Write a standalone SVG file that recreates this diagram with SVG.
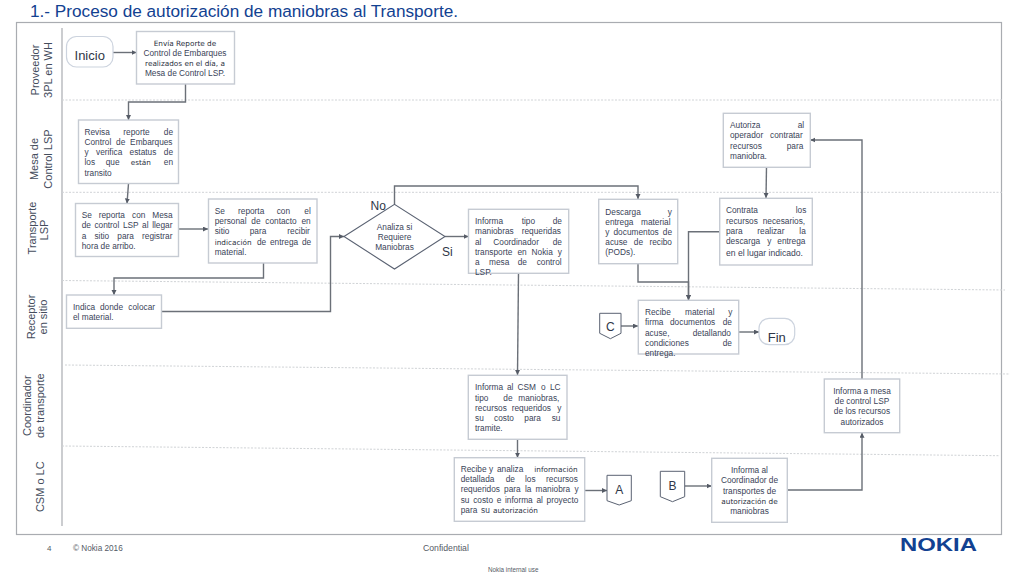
<svg xmlns="http://www.w3.org/2000/svg" width="1024" height="576" viewBox="0 0 1024 576">
<style>
text{font-family:"Liberation Sans",Arial,sans-serif;fill:#3a4358}
.t{font-size:8.3px}
.c{font-size:8.3px;text-anchor:middle}
.d{font-family:"DejaVu Sans",sans-serif;font-size:7.3px;fill:#2a3040}
.lane{font-size:11px;text-anchor:middle;fill:#444c5c}
.big{font-size:13px;text-anchor:middle;fill:#2f3748}
.box{fill:#fff;stroke:#c6cbd3;stroke-width:1.4}
.term{fill:#fff;stroke:#ccd3de;stroke-width:1.2}
.shape{fill:#fff;stroke:#5a6272;stroke-width:1}
.dash{fill:none;stroke:#d0d3d6;stroke-width:1;stroke-dasharray:2 1.5}
.conn{fill:none;stroke:#6b7078;stroke-width:1.4;marker-end:url(#arr)}
.foot{font-size:8.5px;fill:#555b66}
</style>
<defs>
<marker id="arr" markerUnits="userSpaceOnUse" markerWidth="6" markerHeight="6" refX="5" refY="2.5" orient="auto"><path d="M0 0L5 2.5L0 5Z" fill="#555b66"/></marker>
</defs>
<rect width="1024" height="576" fill="#fff"/>
<text x="30" y="16.5" style="font-size:17.2px;fill:#124191">1.- Proceso de autorización de maniobras al Transporte.</text>
<g id="frame">
<rect x="16.5" y="22.5" width="985" height="512" fill="none" stroke="#a9acb1" stroke-width="1.2"/>
<path d="M62 28V526" fill="none" stroke="#a9acb1" stroke-width="1.2"/>
<path class="dash" d="M62 100H1003"/>
<path class="dash" d="M62 192.3H1003"/>
<path class="dash" d="M62 280.5L340 283.3L1005 290"/>
<path class="dash" d="M65 365L1010 374"/>
<path class="dash" d="M62 446L1000 455.7"/>
</g>
<g id="lanes">
<text class="lane" transform="translate(39 70) rotate(-90)">Proveedor</text>
<text class="lane" transform="translate(52 70) rotate(-90)">3PL en WH</text>
<text class="lane" transform="translate(38 159) rotate(-90)">Mesa de</text>
<text class="lane" transform="translate(52 159) rotate(-90)">Control LSP</text>
<text class="lane" transform="translate(36 228) rotate(-90)">Transporte</text>
<text class="lane" transform="translate(48 230) rotate(-90)">LSP</text>
<text class="lane" transform="translate(34.5 317) rotate(-90)">Receptor</text>
<text class="lane" transform="translate(47 317) rotate(-90)">en sitio</text>
<text class="lane" transform="translate(31 405.7) rotate(-90)">Coordinador</text>
<text class="lane" transform="translate(44 405.7) rotate(-90)">de transporte</text>
<text class="lane" transform="translate(44 486.7) rotate(-90)">CSM o LC</text>
</g>
<g id="connectors">
<path class="conn" d="M113 52.5H136.5"/>
<path class="conn" d="M185.5 84V102H128.5V120"/>
<path class="conn" d="M128.5 183.5L127 203.5"/>
<path class="conn" d="M178.5 229H208"/>
<path class="conn" d="M263.5 263V278H114V295"/>
<path class="conn" d="M161.5 311.5H330.5V236.5H344"/>
<path class="conn" d="M394.5 204V186H638V199"/>
<path class="conn" d="M445 236.5H468.5"/>
<path class="conn" d="M518.5 273L517.5 375"/>
<path class="conn" d="M638 264V282H688.5V300"/>
<path class="conn" d="M719.7 231.7H688.5V300"/>
<path class="conn" d="M621 326H638"/>
<path class="conn" d="M738.7 332H759"/>
<path class="conn" d="M517.5 439V457.7"/>
<path class="conn" d="M584.7 490.5H607"/>
<path class="conn" d="M684.7 486H711.7"/>
<path class="conn" d="M787.3 490H862V432.7"/>
<path class="conn" d="M862 379V140H810.3"/>
<path class="conn" d="M766.5 167L766 198"/>
</g>
<g id="inicio"><rect class="term" x="66.5" y="36.5" width="46.5" height="30.5" rx="10"/><text class="big" x="89.7" y="60">Inicio</text></g>
<g id="envia"><rect class="box" x="136.5" y="31.5" width="98" height="52.5"/>
<text class="c d" x="185" y="46">Envía Reporte de</text>
<text class="c" x="185" y="56">Control de Embarques</text>
<text class="c d" x="185" y="66">realizados en el día, a</text>
<text class="c" x="185" y="76">Mesa de Control LSP.</text></g>
<g id="revisa"><rect class="box" x="78.5" y="120" width="100" height="63.5"/>
<text class="t" y="134.5"><tspan x="84.5">Revisa</tspan> <tspan x="123.3">reporte</tspan> <tspan x="163.8">de</tspan></text>
<text class="t" y="144.5"><tspan x="84.5">Control</tspan> <tspan x="116.1">de</tspan> <tspan x="130.1">Embarques</tspan></text>
<text class="t" y="155"><tspan x="84.5">y</tspan> <tspan x="96">verifica</tspan> <tspan x="129.6">estatus</tspan> <tspan x="163.8">de</tspan></text>
<text class="t" y="165"><tspan x="84.5">los</tspan> <tspan x="105.7">que</tspan> <tspan x="130.7" class="d">están</tspan> <tspan x="163.8">en</tspan></text>
<text class="t" x="84.5" y="175.5">transito</text></g>
<g id="reporta1"><rect class="box" x="75.5" y="203.5" width="103" height="53"/>
<text class="t" y="218"><tspan x="81.7">Se</tspan> <tspan x="98.7">reporta</tspan> <tspan x="132">con</tspan> <tspan x="152.3">Mesa</tspan></text>
<text class="t" y="228"><tspan x="81.7">de</tspan> <tspan x="94.4">control</tspan> <tspan x="122.9">LSP</tspan> <tspan x="142.1">al</tspan> <tspan x="152.2">llegar</tspan></text>
<text class="t" y="238.5"><tspan x="81.7">a</tspan> <tspan x="94.4">sitio</tspan> <tspan x="117.3">para</tspan> <tspan x="142">registrar</tspan></text>
<text class="t" x="81.7" y="248.7">hora de arribo.</text></g>
<g id="reporta2"><rect class="box" x="208.5" y="199" width="108.5" height="64"/>
<text class="t" y="213.5"><tspan x="214.7">Se</tspan> <tspan x="238">reporta</tspan> <tspan x="276.7">con</tspan> <tspan x="304.3">el</tspan></text>
<text class="t" y="224"><tspan x="214.7">personal</tspan> <tspan x="251.3">de</tspan> <tspan x="265.3">contacto</tspan> <tspan x="301.5">en</tspan></text>
<text class="t" y="234"><tspan x="214.7">sitio</tspan> <tspan x="249.7">para</tspan> <tspan x="287.3">recibir</tspan></text>
<text class="t" y="244.5"><tspan x="214.7" class="d">indicación</tspan> <tspan x="257">de</tspan> <tspan x="270">entrega</tspan> <tspan x="302">de</tspan></text>
<text class="t" x="214.7" y="255">material.</text></g>
<g id="indica"><rect class="box" x="66.5" y="295" width="95" height="33.3"/>
<text class="t" y="309.7"><tspan x="73">Indica</tspan> <tspan x="100">donde</tspan> <tspan x="128.3">colocar</tspan></text>
<text class="t" x="73" y="320">el material.</text></g>
<g id="decision"><path d="M344 236.5L394.5 204.3L445 236.5L394.5 269Z" fill="#fff" stroke="#5a6272" stroke-width="1.1"/>
<text class="c" x="394.5" y="230">Analiza si</text>
<text class="c" x="394.5" y="240">Requiere</text>
<text class="c" x="394.5" y="249.5">Maniobras</text>
<text x="370.5" y="210" style="font-size:12px;fill:#2f3748">No</text>
<text x="442" y="256" style="font-size:12px;fill:#2f3748">Si</text></g>
<g id="tipo"><rect class="box" x="468.5" y="209.3" width="100.2" height="64"/>
<text class="t" y="224"><tspan x="475">Informa</tspan> <tspan x="521.7">tipo</tspan> <tspan x="552.7">de</tspan></text>
<text class="t" y="234.3"><tspan x="475">maniobras</tspan> <tspan x="521.7">requeridas</tspan></text>
<text class="t" y="244.5"><tspan x="475">al</tspan> <tspan x="493.3">Coordinador</tspan> <tspan x="552.7">de</tspan></text>
<text class="t" y="254.7"><tspan x="475">transporte</tspan> <tspan x="517.4">en</tspan> <tspan x="531.6">Nokia</tspan> <tspan x="557.8">y</tspan></text>
<text class="t" y="265"><tspan x="475">a</tspan> <tspan x="489">mesa</tspan> <tspan x="517.7">de</tspan> <tspan x="536.7">control</tspan></text>
<text class="t" x="475" y="275">LSP.</text></g>
<g id="descarga"><rect class="box" x="598.7" y="199.3" width="79" height="64.4"/>
<text class="t" y="214.5"><tspan x="605.3">Descarga</tspan> <tspan x="667.8">y</tspan></text>
<text class="t" y="225"><tspan x="605.3">entrega</tspan> <tspan x="641">material</tspan></text>
<text class="t" y="235"><tspan x="605.3">y</tspan> <tspan x="613.5">documentos</tspan> <tspan x="662.8">de</tspan></text>
<text class="t" y="245"><tspan x="605.3">acuse</tspan> <tspan x="633.8">de</tspan> <tspan x="649.4">recibo</tspan></text>
<text class="t" x="605.3" y="255.3">(PODs).</text></g>
<g id="c"><path class="shape" d="M599.7 313.3H621V333.3L610.4 338.7L599.7 333.3Z"/><text class="big" x="610.4" y="330.5" style="font-size:12px">C</text></g>
<g id="recibe"><rect class="box" x="638.3" y="300.3" width="100.4" height="53.7"/>
<text class="t" y="315"><tspan x="645">Recibe</tspan> <tspan x="685">material</tspan> <tspan x="728.3">y</tspan></text>
<text class="t" y="325"><tspan x="645">firma</tspan> <tspan x="670">documentos</tspan> <tspan x="722.7">de</tspan></text>
<text class="t" y="335.5"><tspan x="645">acuse,</tspan> <tspan x="692.7">detallando</tspan></text>
<text class="t" y="345.5"><tspan x="645">condiciones</tspan> <tspan x="722.7">de</tspan></text>
<text class="t" x="645" y="356">entrega.</text></g>
<g id="fin"><rect class="term" x="759" y="318.3" width="35.7" height="26.4" rx="10"/><text class="big" x="776.8" y="341.5">Fin</text></g>
<g id="csm"><rect class="box" x="468.3" y="375.3" width="98.7" height="64"/>
<text class="t" y="390"><tspan x="475">Informa</tspan> <tspan x="507">al</tspan> <tspan x="517.5">CSM</tspan> <tspan x="541">o</tspan> <tspan x="550">LC</tspan></text>
<text class="t" y="400.5"><tspan x="475">tipo</tspan> <tspan x="503.3">de</tspan> <tspan x="518.3">maniobras,</tspan></text>
<text class="t" y="410.5"><tspan x="475">recursos</tspan> <tspan x="511.7">requeridos</tspan> <tspan x="557.3">y</tspan></text>
<text class="t" y="420.5"><tspan x="475">su</tspan> <tspan x="494">costo</tspan> <tspan x="524.3">para</tspan> <tspan x="551.7">su</tspan></text>
<text class="t" x="475" y="431">tramite.</text></g>
<g id="analiza"><rect class="box" x="454.3" y="457.7" width="130.4" height="63.6"/>
<text class="t" y="472"><tspan x="460.7">Recibe</tspan> <tspan x="489">y</tspan> <tspan x="497">analiza</tspan> <tspan x="534.3" class="d">información</tspan></text>
<text class="t" y="482"><tspan x="460.7">detallada</tspan> <tspan x="505.7">de</tspan> <tspan x="525">los</tspan> <tspan x="546">recursos</tspan></text>
<text class="t" y="492"><tspan x="460.7">requeridos</tspan> <tspan x="504.1">para</tspan> <tspan x="524.9">la</tspan> <tspan x="535.6">maniobra</tspan> <tspan x="574.4">y</tspan></text>
<text class="t" y="502.5"><tspan x="460.7">su</tspan> <tspan x="473.2">costo</tspan> <tspan x="496.7">e</tspan> <tspan x="505">informa</tspan> <tspan x="536.4">al</tspan> <tspan x="546.6">proyecto</tspan></text>
<text class="t" y="512.5"><tspan x="460.7">para</tspan> <tspan x="481">su</tspan> <tspan x="493" class="d">autorización</tspan></text></g>
<g id="a"><path class="shape" d="M607 475.3H631.3V500.7L619.2 505L607 500.7Z"/><text class="big" x="619.2" y="493.5" style="font-size:12px">A</text></g>
<g id="b"><path class="shape" d="M660.3 471.3H684.7V496.7L672.5 501.7L660.3 496.7Z"/><text class="big" x="672.5" y="489.5" style="font-size:12px">B</text></g>
<g id="coord"><rect class="box" x="711.7" y="458.3" width="75.6" height="64"/>
<text class="c" x="749.5" y="473">Informa al</text>
<text class="c" x="749.5" y="483.3">Coordinador de</text>
<text class="c" x="749.5" y="493.5">transportes de</text>
<text class="c d" x="749.5" y="504">autorización de</text>
<text class="c" x="749.5" y="514">maniobras</text></g>
<g id="mesa"><rect class="box" x="824.3" y="379" width="75.4" height="53.7"/>
<text class="c" x="862" y="393.7">Informa a mesa</text>
<text class="c" x="862" y="404">de control LSP</text>
<text class="c" x="862" y="414">de los recursos</text>
<text class="c" x="862" y="424.5">autorizados</text></g>
<g id="autoriza"><rect class="box" x="723.3" y="113.3" width="87" height="54"/>
<text class="t" y="128"><tspan x="730">Autoriza</tspan> <tspan x="797.7">al</tspan></text>
<text class="t" y="138"><tspan x="730">operador</tspan> <tspan x="770">contratar</tspan></text>
<text class="t" y="148.5"><tspan x="730">recursos</tspan> <tspan x="786.7">para</tspan></text>
<text class="t" x="730" y="159">maniobra.</text></g>
<g id="contrata"><rect class="box" x="719.7" y="198.3" width="92.6" height="66.7"/>
<text class="t" y="213"><tspan x="726">Contrata</tspan> <tspan x="795.7">los</tspan></text>
<text class="t" y="223.5"><tspan x="726">recursos</tspan> <tspan x="762.7">necesarios,</tspan></text>
<text class="t" y="233.5"><tspan x="726">para</tspan> <tspan x="757.3">realizar</tspan> <tspan x="799.3">la</tspan></text>
<text class="t" y="244"><tspan x="726">descarga</tspan> <tspan x="767.3">y</tspan> <tspan x="777.3">entrega</tspan></text>
<text class="t" x="726" y="256" style="font-size:8.6px">en el lugar indicado.</text></g>
<g id="footer">
<text class="foot" x="47" y="551" style="font-size:8px">4</text>
<text class="foot" x="73" y="551" style="font-size:8.2px">© Nokia 2016</text>
<text class="foot" x="423" y="551" style="font-size:8.7px">Confidential</text>
<text class="foot" x="488" y="572" style="font-size:6.3px">Nokia internal use</text>
<text x="900" y="550.7" textLength="77" lengthAdjust="spacingAndGlyphs" style="font-size:17.5px;font-weight:bold;fill:#124191">NOKIA</text>
</g>
</svg>
